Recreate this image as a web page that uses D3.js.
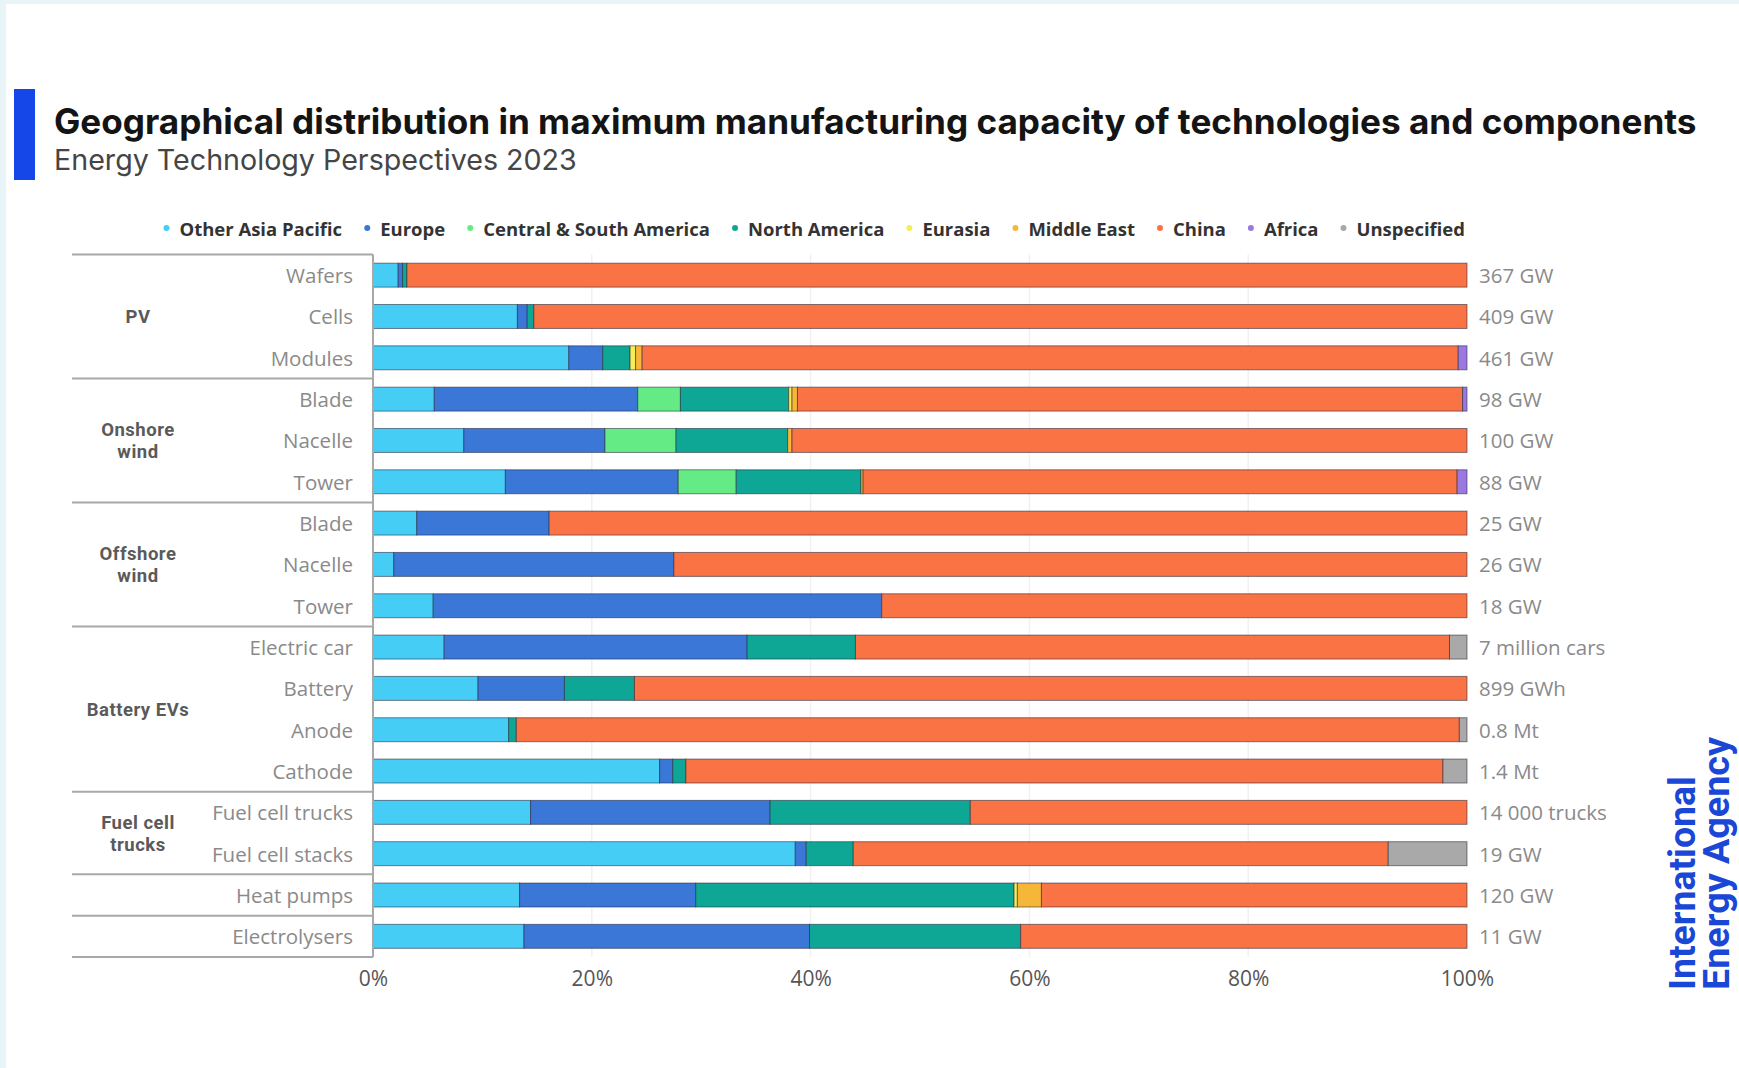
<!DOCTYPE html>
<html>
<head>
<meta charset="utf-8">
<script src="https://cdn.jsdelivr.net/npm/d3@7"></script>
<style>
  body { margin: 0; background: #ffffff; }
  svg { display: block; }
</style>
</head>
<body>
<div id="chart"></div>
<script>
// regions (stack order, left to right)
var regions = ["Other Asia Pacific", "Europe", "Central & South America", "North America",
               "Eurasia", "Middle East", "China", "Africa", "Unspecified"]

// rows, top to bottom
var items = ["Wafers", "Cells", "Modules", "Blade", "Nacelle", "Tower", "Blade", "Nacelle", "Tower",
             "Electric car", "Battery", "Anode", "Cathode", "Fuel cell trucks", "Fuel cell stacks",
             "Heat pumps", "Electrolysers"]

var capacity = ["367 GW", "409 GW", "461 GW", "98 GW", "100 GW", "88 GW", "25 GW", "26 GW", "18 GW",
                "7 million cars", "899 GWh", "0.8 Mt", "1.4 Mt", "14 000 trucks", "19 GW", "120 GW", "11 GW"]

var groupNames = [["PV"], ["Onshore", "wind"], ["Offshore", "wind"], ["Battery EVs"], ["Fuel cell", "trucks"], [], []]
var groupSizes = [3, 3, 3, 4, 2, 1, 1]

// shares in %, one value per row
var otherAsiaPacific = [2.3, 13.2, 17.9, 5.6, 8.3, 12.1, 4.0, 1.9, 5.5, 6.5, 9.6, 12.4, 26.2, 14.4, 38.6, 13.4, 13.8]
var europe           = [0.4, 0.9, 3.1, 18.6, 12.9, 15.8, 12.1, 25.6, 41.0, 27.7, 7.9, 0, 1.2, 21.9, 1.0, 16.1, 26.1]
var centralSouthAm   = [0, 0, 0, 3.9, 6.5, 5.3, 0, 0, 0, 0, 0, 0, 0, 0, 0, 0, 0]
var northAmerica     = [0.4, 0.6, 2.5, 9.9, 10.2, 11.4, 0, 0, 0, 9.9, 6.4, 0.7, 1.2, 18.3, 4.3, 29.1, 19.3]
var eurasia          = [0, 0, 0.5, 0.3, 0, 0, 0, 0, 0, 0, 0, 0, 0, 0, 0, 0.3, 0]
var middleEast       = [0, 0, 0.6, 0.5, 0.4, 0.2, 0, 0, 0, 0, 0, 0, 0, 0, 0, 2.2, 0]
var china            = [96.9, 85.3, 74.6, 60.8, 61.7, 54.3, 83.9, 72.5, 53.5, 54.3, 76.1, 86.2, 69.2, 45.4, 48.9, 38.9, 40.8]
var africa           = [0, 0, 0.8, 0.4, 0, 0.9, 0, 0, 0, 0, 0, 0, 0, 0, 0, 0, 0]
var unspecified      = [0, 0, 0, 0, 0, 0, 0, 0, 0, 1.6, 0, 0.7, 2.2, 0, 7.2, 0, 0]

var ticks = [0, 20, 40, 60, 80, 100]

var series = [otherAsiaPacific, europe, centralSouthAm, northAmerica, eurasia, middleEast, china, africa, unspecified]
var colorArr = ["#45cdf6", "#3b77d6", "#64eb86", "#0ea796", "#f5ef55", "#f6b638", "#f97345", "#9b79e0", "#a9a9a9"]

var W = 1739, H = 1068
var labelFont = "'Open Sans', Roboto, sans-serif"

var svg = d3.select("#chart")
  .append("svg")
  .attr("width", W)
  .attr("height", H)

// frame
svg.append("rect").attr("width", W).attr("height", H).style("fill", "#e8f4f7")
svg.append("rect").attr("x", 6).attr("y", 4).attr("width", W - 6).attr("height", H - 4).style("fill", "#ffffff")

// fits a text element to a given width by adjusting font size
function fit(sel, target) {
  var fs = parseFloat(sel.style("font-size"))
  var len = sel.node().getComputedTextLength()
  sel.style("font-size", (fs * target / len) + "px")
}

// title block
svg.append("rect")
  .attr("x", 14).attr("y", 89).attr("width", 21).attr("height", 91)
  .style("fill", "#1546e8")

var title = svg.append("text")
  .attr("x", 54).attr("y", 134)
  .style("font-family", "Inter, Roboto, sans-serif")
  .style("font-weight", 700)
  .style("font-size", "29px")
  .style("fill", "#141414")
  .text("Geographical distribution in maximum manufacturing capacity of technologies and components")
fit(title, 1643)

var subtitle = svg.append("text")
  .attr("x", 54).attr("y", 170)
  .style("font-family", "Inter, Roboto, sans-serif")
  .style("font-size", "23px")
  .style("fill", "#454545")
  .text("Energy Technology Perspectives 2023")
fit(subtitle, 523)

// legend: measure at a base size, then scale to span the reference width
var legStart = 166.5, legEnd = 1465, dotGap = 13, itemGap = 25
var legG = svg.append("g")
var legTexts = legG.selectAll("text")
  .data(regions)
  .enter()
  .append("text")
  .attr("y", 228)
  .attr("dominant-baseline", "central")
  .style("font-family", labelFont)
  .style("font-weight", 700)
  .style("font-size", "16px")
  .style("fill", "#333")
  .text(function(d) { return d })
var widths = legTexts.nodes().map(function(n) { return n.getComputedTextLength() })
var avail = legEnd - legStart - regions.length * dotGap - (regions.length - 1) * itemGap
var s = avail / d3.sum(widths)
legTexts.style("font-size", (16 * s) + "px")
var legX = legStart
regions.forEach(function(r, i) {
  legG.append("circle")
    .attr("cx", legX).attr("cy", 228).attr("r", 3)
    .style("fill", colorArr[i])
  d3.select(legTexts.nodes()[i]).attr("x", legX + dotGap)
  legX += dotGap + widths[i] * s + itemGap
})

// scales
var x = d3.scaleLinear().domain([0, 100]).range([373, 1467])
var y = d3.scaleBand()
  .domain(d3.range(items.length))
  .range([254.5, 957])
  .paddingInner(0.42)
  .paddingOuter(0.21)

// gridlines
svg.append("g")
  .selectAll("line")
  .data(ticks.slice(1, -1))
  .enter()
  .append("line")
  .attr("x1", function(d) { return x(d) })
  .attr("x2", function(d) { return x(d) })
  .attr("y1", 254.5)
  .attr("y2", 957)
  .style("stroke", "#f1f1f1")
  .style("stroke-width", 1.5)

// stacked bars
var rows = items.map(function(d, i) {
  var o = { idx: i }
  regions.forEach(function(r, k) { o[r] = series[k][i] })
  return o
})
var stacked = d3.stack().keys(regions)(rows)

svg.append("g")
  .selectAll("g")
  .data(stacked)
  .enter()
  .append("g")
  .style("fill", function(d, i) { return colorArr[i] })
  .selectAll("rect")
  .data(function(d) { return d.filter(function(s) { return s[1] - s[0] > 0 }) })
  .enter()
  .append("rect")
  .attr("x", function(d) { return x(d[0]) })
  .attr("y", function(d) { return y(d.data.idx) })
  .attr("width", function(d) { return x(d[1]) - x(d[0]) })
  .attr("height", y.bandwidth())
  .style("stroke", "rgba(35,35,55,0.55)")
  .style("stroke-width", 1)

// row labels
svg.append("g")
  .selectAll("text")
  .data(items)
  .enter()
  .append("text")
  .attr("x", 353)
  .attr("y", function(d, i) { return y(i) + y.bandwidth() / 2 })
  .attr("text-anchor", "end")
  .attr("dominant-baseline", "central")
  .style("font-family", labelFont)
  .style("font-size", "20.5px")
  .style("fill", "#8a8a8a")
  .text(function(d) { return d })

// capacity labels
svg.append("g")
  .selectAll("text")
  .data(capacity)
  .enter()
  .append("text")
  .attr("x", 1479)
  .attr("y", function(d, i) { return y(i) + y.bandwidth() / 2 })
  .attr("dominant-baseline", "central")
  .style("font-family", labelFont)
  .style("font-size", "20.5px")
  .style("fill", "#8a8a8a")
  .text(function(d) { return d })

// group separators and labels
var step = y.step()
var top0 = 254.5
var cuts = [0]
groupSizes.forEach(function(s) { cuts.push(cuts[cuts.length - 1] + s) })

svg.append("g")
  .selectAll("line")
  .data(cuts)
  .enter()
  .append("line")
  .attr("x1", 72)
  .attr("x2", 373)
  .attr("y1", function(d) { return top0 + d * step })
  .attr("y2", function(d) { return top0 + d * step })
  .style("stroke", "#a8a8a8")
  .style("stroke-width", 2)

svg.append("line")
  .attr("x1", 373).attr("x2", 373)
  .attr("y1", top0).attr("y2", 957)
  .style("stroke", "#a8a8a8")
  .style("stroke-width", 2)

var lineH = 22
groupNames.forEach(function(lines, g) {
  if (!lines.length) return
  var mid = top0 + (cuts[g] + groupSizes[g] / 2) * step
  var t = svg.append("text")
    .attr("text-anchor", "middle")
    .style("font-family", "Roboto, sans-serif")
    .style("font-weight", 700)
    .style("font-size", "18.5px")
    .style("letter-spacing", "0.5px")
    .style("fill", "#5a5a5a")
  lines.forEach(function(l, j) {
    t.append("tspan")
      .attr("x", 138)
      .attr("y", mid + (j - (lines.length - 1) / 2) * lineH + 6.5)
      .text(l)
  })
})

// x axis
var xAxis = svg.append("g")
  .attr("transform", "translate(0,957)")
  .call(d3.axisBottom(x).tickValues(ticks).tickSize(0).tickPadding(14)
    .tickFormat(function(d) { return d + "%" }))
xAxis.select(".domain").remove()
xAxis.selectAll("text")
  .style("font-family", labelFont)
  .style("font-size", "21px")
  .style("fill", "#555")

// IEA mark
var l1 = svg.append("text")
  .attr("transform", "translate(1695,990) rotate(-90)")
  .style("font-family", "Roboto, sans-serif")
  .style("font-weight", 700)
  .style("font-size", "31px")
  .style("fill", "#1a47d6")
  .text("International")
fit(l1, 214)
var l2 = svg.append("text")
  .attr("transform", "translate(1729,990) rotate(-90)")
  .style("font-family", "Roboto, sans-serif")
  .style("font-weight", 700)
  .style("font-size", "31px")
  .style("fill", "#1a47d6")
  .text("Energy Agency")
fit(l2, 253)
</script>
</body>
</html>
